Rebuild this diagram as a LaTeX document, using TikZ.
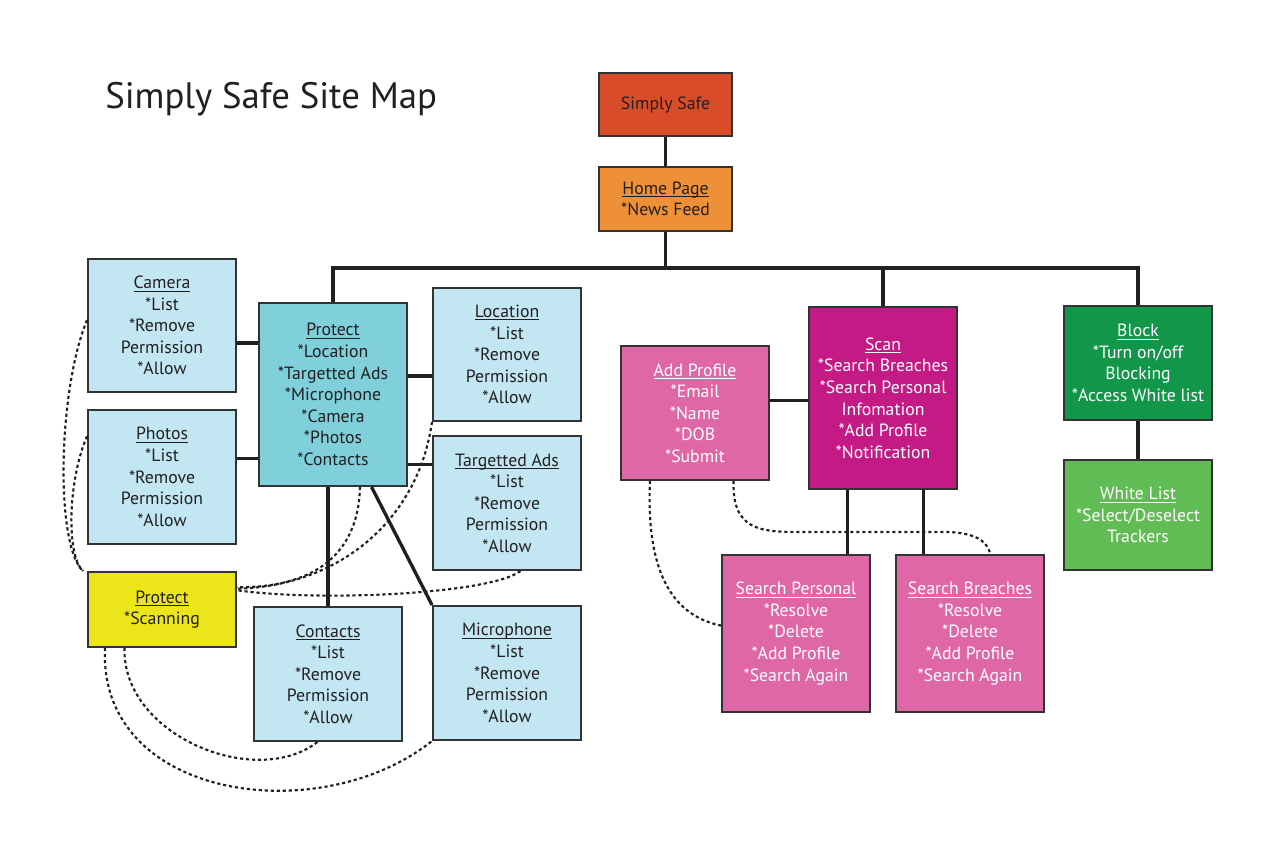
\documentclass[tikz,border=0pt]{standalone}
\usepackage{fontspec}
\setmainfont{PT Sans}
\usetikzlibrary{calc}
\definecolor{ink}{HTML}{231F20}
\definecolor{edge}{HTML}{333333}
\definecolor{cRed}{HTML}{D84C2A}
\definecolor{cOrange}{HTML}{EE9038}
\definecolor{cLight}{HTML}{C2E7F2}
\definecolor{cTeal}{HTML}{80D0DC}
\definecolor{cYellow}{HTML}{ECE51B}
\definecolor{cPink}{HTML}{E067A5}
\definecolor{cMag}{HTML}{C41A85}
\definecolor{cDGreen}{HTML}{12974A}
\definecolor{cLGreen}{HTML}{62BC55}
\newcommand\ulh[1]{\setbox0\hbox{#1}\rlap{\rule[-2.2pt]{\wd0}{0.7pt}}\box0}
\newcommand\bx[7]{\node[#6, minimum width={(#4-#2)*0.75pt}, minimum height={(#5-#3)*0.75pt}] (#1) at ({(#2+#4)/2},{(#3+#5)/2}) {#7};}
\tikzset{
  box/.style={draw=edge, line width=1.5pt, align=center, inner sep=2pt, text=ink,
    font=\fontsize{13.3}{16.2}\selectfont},
  light/.style={box, fill=cLight},
  wbox/.style={box, text=white},
  link/.style={draw=ink, line width=2.5pt},
  dot/.style={draw=ink, line width=1.6pt, dash pattern=on 2.4pt off 2.1pt},
}
\begin{document}
\begin{tikzpicture}[x=0.75pt,y=-0.75pt]
\useasboundingbox (0,0) rectangle (1271,861);
\fill[white] (0,0) rectangle (1271,861);
\node[anchor=west, text=ink, font=\fontsize{27.6}{32}\selectfont, inner sep=0pt] (title) at (105,99) {Simply Safe Site Map};

% boxes
\bx{simply}{599}{73}{732}{136}{box, fill=cRed}{Simply Safe}
\bx{home}{599}{167}{732}{231}{box, fill=cOrange}{\ulh{Home Page}\\*News Feed}
\bx{camera}{88}{259}{236}{392}{light}{\ulh{Camera}\\*List\\*Remove\\Permission\\*Allow}
\bx{photos}{88}{410}{236}{544}{light}{\ulh{Photos}\\*List\\*Remove\\Permission\\*Allow}
\bx{protect}{259}{303}{407}{486}{box, fill=cTeal}{\ulh{Protect}\\*Location\\*Targetted Ads\\*Microphone\\*Camera\\*Photos\\*Contacts}
\bx{location}{433}{288}{581}{421}{light}{\ulh{Location}\\*List\\*Remove\\Permission\\*Allow}
\bx{ads}{433}{436}{581}{570}{light}{\ulh{Targetted Ads}\\*List\\*Remove\\Permission\\*Allow}
\bx{scanning}{88}{572}{236}{647}{box, fill=cYellow}{\ulh{Protect}\\*Scanning}
\bx{contacts}{254}{607}{402}{741}{light}{\ulh{Contacts}\\*List\\*Remove\\Permission\\*Allow}
\bx{micro}{433}{606}{581}{740}{light}{\ulh{Microphone}\\*List\\*Remove\\Permission\\*Allow}
\bx{addprof}{621}{346}{769}{480}{wbox, fill=cPink}{\ulh{Add Profile}\\*Email\\*Name\\*DOB\\*Submit}
\bx{scan}{809}{307}{957}{489}{wbox, fill=cMag}{\ulh{Scan}\\*Search Breaches\\*Search Personal\\Infomation\\*Add Profile\\*Notification}
\bx{spers}{722}{555}{870}{712}{wbox, fill=cPink}{\ulh{Search Personal}\\*Resolve\\*Delete\\*Add Profile\\*Search Again}
\bx{sbr}{896}{555}{1044}{712}{wbox, fill=cPink}{\ulh{Search Breaches}\\*Resolve\\*Delete\\*Add Profile\\*Search Again}
\bx{block}{1064}{306}{1212}{420}{wbox, fill=cDGreen}{\ulh{Block}\\*Turn on/off\\Blocking\\*Access White list}
\bx{white}{1064}{460}{1212}{570}{wbox, fill=cLGreen}{\ulh{White List}\\*Select/Deselect\\Trackers}

% solid connectors
\coordinate (bus) at (home.south |- 0,268);
\draw[link] (simply.south) -- (home.north);
\draw[link] (home.south) -- (bus);
\draw[link] (protect.north) |- (bus) -| (block.north);
\draw[link] (scan.north) -- (scan.north |- bus);
\coordinate (c1) at ($(camera.north east)!0.63!(camera.south east)$);
\draw[link] (c1) -- (c1 -| protect.west);
\coordinate (c2) at ($(photos.north east)!0.366!(photos.south east)$);
\draw[link] (c2) -- (c2 -| protect.west);
\coordinate (c3) at ($(protect.north east)!0.4!(protect.south east)$);
\draw[link] (c3) -- (c3 -| location.west);
\coordinate (c4) at ($(protect.north east)!0.88!(protect.south east)$);
\draw[link] (c4) -- (c4 -| ads.west);
\draw[link] (contacts.north) -- (contacts.north |- protect.south);
\coordinate (c5) at ($(protect.south west)!0.757!(protect.south east)$);
\draw[link] (c5) -- (micro.north west);
\coordinate (c6) at ($(addprof.north east)!0.41!(addprof.south east)$);
\draw[link] (c6) -- (c6 -| scan.west);
\coordinate (c7) at ($(scan.south west)!0.264!(scan.south east)$);
\draw[link] (c7) -- (c7 |- spers.north);
\coordinate (c8) at ($(scan.south west)!0.77!(scan.south east)$);
\draw[link] (c8) -- (c8 |- sbr.north);
\draw[link] (block.south) -- (white.north);

% dotted connectors
\coordinate (d1) at ($(camera.north west)!0.46!(camera.south west)$);
\draw[dot] (d1) .. controls (58,390) and (55,545) .. ([xshift=-3pt]scanning.north west);
\coordinate (d2) at ($(photos.north west)!0.2!(photos.south west)$);
\draw[dot] (d2) .. controls (68,480) and (66,555) .. ([xshift=-3pt]scanning.north west);
\coordinate (d3) at ($(protect.south west)!0.68!(protect.south east)$);
\coordinate (e3) at ($(scanning.north east)!0.21!(scanning.south east)$);
\draw[dot] (d3) .. controls (358,565) and (300,588) .. (e3);
\coordinate (e4) at ($(scanning.north east)!0.23!(scanning.south east)$);
\draw[dot] (location.south west) .. controls (418,520) and (340,586) .. (e4);
\coordinate (d5) at ($(ads.south west)!0.59!(ads.south east)$);
\coordinate (e5) at ($(scanning.north east)!0.25!(scanning.south east)$);
\draw[dot] (d5) .. controls (490,594) and (320,602) .. (e5);
\coordinate (d6) at ($(scanning.south west)!0.25!(scanning.south east)$);
\coordinate (e6) at ($(contacts.south west)!0.43!(contacts.south east)$);
\draw[dot] (d6) .. controls (122,735) and (255,790) .. (e6);
\coordinate (d7) at ($(scanning.south west)!0.12!(scanning.south east)$);
\draw[dot] (d7) .. controls (98,800) and (320,830) .. (micro.south west);
\coordinate (d8) at ($(addprof.south west)!0.2!(addprof.south east)$);
\coordinate (e8) at ($(spers.north west)!0.45!(spers.south west)$);
\draw[dot] (d8) .. controls (645,590) and (685,618) .. (e8);
\coordinate (d9) at ($(addprof.south west)!0.757!(addprof.south east)$);
\coordinate (e9) at ($(sbr.north west)!0.635!(sbr.north east)$);
\draw[dot] (d9) .. controls (732,530) and (760,532) .. (800,532) -- (950,532) .. controls (982,534) and (988,545) .. (e9);
\end{tikzpicture}
\end{document}
